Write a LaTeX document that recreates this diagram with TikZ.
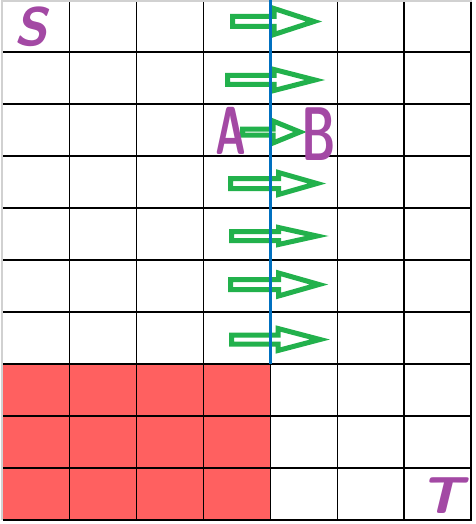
\documentclass[tikz,border=0pt]{standalone}
\usepackage{graphicx}
\usetikzlibrary{calc}
\definecolor{cellred}{RGB}{255,96,96}
\definecolor{cutblue}{RGB}{0,112,192}
\definecolor{arrgreen}{RGB}{34,177,76}
\definecolor{letterpurple}{RGB}{163,73,164}
\tikzset{
  gridline/.style={black, line width=1.3pt},
  edgeline/.style={black!18, line width=1.5pt},
  cutline/.style={cutblue, line width=3pt},
  blockarrow/.style={arrgreen, line width=5pt, line join=miter},
  letter/.style={text=letterpurple, font=\fontsize{#1}{#1}\selectfont\sffamily\bfseries, inner sep=0pt},
}
% \garrow{tail x}{neck x}{tip x}{centre y}{shaft half}{head half}
\newcommand\garrow[6]{%
  \draw[blockarrow] (#1,#4-#5) -- (#2,#4-#5) -- (#2,#4-#6) -- (#3,#4) -- (#2,#4+#6) -- (#2,#4+#5) -- (#1,#4+#5) -- cycle;}
\begin{document}
\begin{tikzpicture}[x=1pt,y=-1pt]
  \useasboundingbox (0,0) rectangle (475,524);
  \fill[white] (0,0) rectangle (475,524);
  % red block
  \fill[cellred] (3,364) rectangle (270.7,520);
  % grid
  \foreach \i in {1,...,7} {
    \draw[gridline] ({2.5+66.93*\i},0) -- ({2.5+66.93*\i},520);
  }
  \foreach \j in {1,...,10} {
    \draw[gridline] (2.5,{52*\j}) -- (471.5,{52*\j});
  }
  \draw[edgeline] (2,0) -- (2,520);
  \draw[edgeline] (2,1) -- (471.5,1);
  % arrows
  \garrow{232.5}{274}{314}{21.5}{5}{13}
  \garrow{227.5}{274}{315}{80}{4.5}{10.5}
  \garrow{242.5}{273}{300}{132}{3}{11}
  \garrow{230.5}{278.5}{317}{183.5}{5}{11}
  \garrow{231.5}{278.5}{317}{236}{4.5}{8.5}
  \garrow{230.5}{278.5}{319}{284.5}{5}{11.5}
  \garrow{231.5}{278}{320}{339.5}{4.5}{11}
  % cut line
  \draw[cutline] (270.7,0) -- (270.7,364);
  % letters
  \node[letter=54] (S) at (31,27) {\slshape S};
  \node[letter=68] (A) at (231,131) {\scalebox{0.62}[1]{A}};
  \node[letter=76] (B) at (319,134) {\scalebox{0.62}[1]{B}};
  \node[letter=52] (T) at (441,496) {\scalebox{1.15}[1]{\slshape T}};
\end{tikzpicture}
\end{document}
